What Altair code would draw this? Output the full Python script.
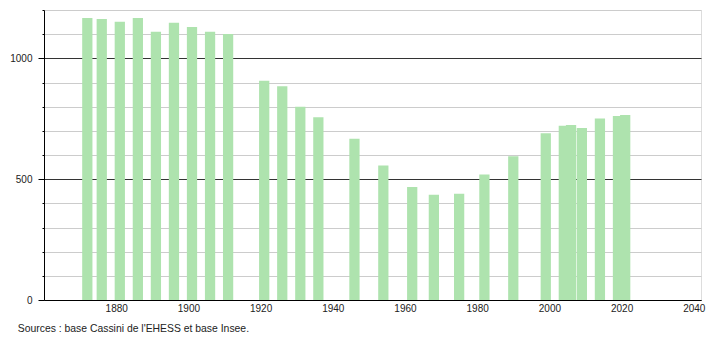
import altair as alt
import pandas as pd

years = [1872, 1876, 1881, 1886, 1891, 1896, 1901, 1906, 1911,
         1921, 1926, 1931, 1936, 1946, 1954, 1962, 1968, 1975,
         1982, 1990, 1999, 2004, 2006, 2009, 2014, 2019, 2021]
population = [1167, 1163, 1151, 1167, 1110, 1147, 1130, 1110, 1101,
              907, 884, 800, 756, 667, 557, 468, 436, 440,
              519, 595, 690, 721, 724, 712, 751, 761, 766]
x_ticks = [1880, 1900, 1920, 1940, 1960, 1980, 2000, 2020, 2040]
y_ticks = list(range(0, 1201, 100))
source_text = "Sources : base Cassini de l'EHESS et base Insee."

df = pd.DataFrame({"year": years, "pop": population})

bars = alt.Chart(df).transform_calculate(
    x1="datum.year - 1.42", x2="datum.year + 1.42"
).mark_bar(color="#aee3ae").encode(
    x=alt.X("x1:Q", scale=alt.Scale(domain=[1860, 2042], nice=False, zero=False),
            axis=alt.Axis(values=x_ticks, format="d", title=None, grid=False,
                          ticks=False, domainColor="#000", labelColor="#222",
                          labelFont="Liberation Sans", labelFontSize=10,
                          labelPadding=3)),
    x2="x2:Q",
    y=alt.Y("pop:Q", scale=alt.Scale(domain=[0, 1200], nice=False),
            axis=alt.Axis(values=y_ticks, format="d", title=None,
                          labelExpr="datum.value % 500 === 0 ? datum.label : ''",
                          gridColor={"condition": {"test": "datum.value % 500 === 0", "value": "#333333"}, "value": "#cccccc"},
                          tickSize={"condition": {"test": "datum.value % 500 === 0", "value": 6}, "value": 2},
                          tickColor="#000", domainColor="#000", labelColor="#222",
                          labelFont="Liberation Sans", labelFontSize=10,
                          labelPadding=6)),
    y2=alt.datum(0),
)

chart = bars.properties(
    width=657, height=290,
    title=alt.TitleParams(text=source_text, orient="bottom", anchor="start",
                          font="Liberation Sans", fontSize=10.4, fontWeight="normal",
                          color="#222", dx=8, offset=11),
    autosize=alt.AutoSizeParams(type="none"),
    padding={"left": 44, "top": 10, "right": 9, "bottom": 40},
).configure_view(stroke=None).configure(background="white")

chart.save("out.html", embed_options={"renderer": "svg", "actions": False})
